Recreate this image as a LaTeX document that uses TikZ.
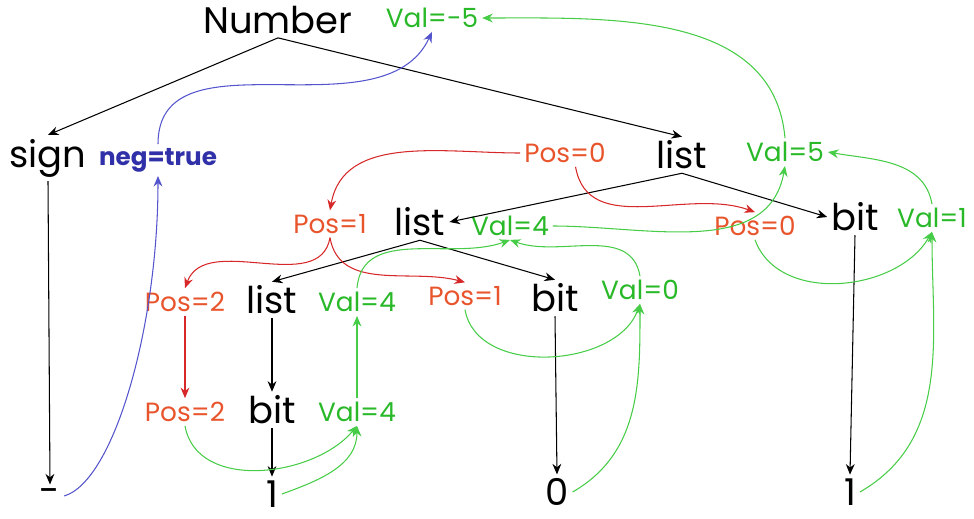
\documentclass[tikz,border=0pt]{standalone}
\usepackage{fontspec}
\setmainfont{Poppins}
\usetikzlibrary{arrows.meta}

\definecolor{posred}{RGB}{232,84,44}
\definecolor{posline}{RGB}{214,40,40}
\definecolor{valgreen}{RGB}{40,184,40}
\definecolor{valline}{RGB}{70,204,70}
\definecolor{negblue}{RGB}{48,48,168}
\definecolor{negline}{RGB}{84,84,204}

\begin{document}
\begin{tikzpicture}[>={Stealth[length=6pt,width=5pt]}, line width=0.6pt,
  sym/.style={font=\fontsize{21}{24}\selectfont, inner sep=2pt},
  posattr/.style={font=\fontsize{15}{17}\selectfont, text=posred, inner sep=2pt},
  valattr/.style={font=\fontsize{15}{17}\selectfont, text=valgreen, inner sep=2pt},
  negattr/.style={font=\fontsize{14}{16}\selectfont\bfseries, text=negblue, inner sep=2pt},
  tree/.style={->, black},
  inh/.style={->, posline},
  syn/.style={->, valline},
  flag/.style={->, negline}
  ]
\useasboundingbox (0,0) rectangle (19.48,-10.36);

% Top: Number and its two children
\node[sym] (num) at (5.56, -0.40) {Number};
\node[valattr] (vneg) at (8.64, -0.36) {Val=-5};

\node[sym] (sign) at (0.96, -3.16) {sign};
\node[negattr] (neg) at (3.16, -3.20) {neg=true};

\node[posattr] (ptop) at (11.30, -3.06) {Pos=0};
\node[sym] (ltop) at (13.64, -3.10) {list};
\node[valattr] (vfive) at (15.70, -3.04) {Val=5};

% Second level
\node[posattr] (pmid) at (6.60, -4.48) {Pos=1};
\node[sym] (lmid) at (8.40, -4.44) {list};
\node[valattr] (vmid) at (10.20, -4.52) {Val=4};

\node[posattr] (pright) at (15.10, -4.52) {Pos=0};
\node[sym] (bitr) at (17.10, -4.34) {bit};
\node[valattr] (vone) at (18.64, -4.36) {Val=1};

% Third level
\node[posattr] (plist) at (3.70, -6.04) {Pos=2};
\node[sym] (llow) at (5.44, -6.00) {list};
\node[valattr] (vlow) at (7.14, -6.04) {Val=4};

\node[posattr] (pbitm) at (9.30, -5.92) {Pos=1};
\node[sym] (bitm) at (11.10, -5.96) {bit};
\node[valattr] (vzero) at (12.80, -5.80) {Val=0};

% Fourth level
\node[posattr] (pbitl) at (3.70, -8.24) {Pos=2};
\node[sym] (bitl) at (5.44, -8.20) {bit};
\node[valattr] (vbit) at (7.14, -8.24) {Val=4};

% Leaves
\node[sym] (minus) at (1.00, -9.92) {-};
\node[sym] (onel) at (5.44, -9.88) {1};
\node[sym] (zero) at (11.14, -9.84) {0};
\node[sym] (oner) at (17.00, -9.84) {1};

% Parse tree
\draw[tree] (num.south) -- (sign.north);
\draw[tree] (num.south) -- (ltop.north);
\draw[tree] (ltop.south) -- (lmid.east);
\draw[tree] (ltop.south) -- (bitr.west);
\draw[tree] (lmid.south) -- (llow.north);
\draw[tree] (lmid.south) -- (bitm.north);
\draw[tree] (sign.south) -- (minus.north);
\draw[tree] (llow.south) -- (bitl.north);
\draw[tree] (bitl.south) -- (onel.north);
\draw[tree] (bitm.south) -- (zero.north);
\draw[tree] (bitr.south) -- (oner.north);

% Inherited positions
\draw[inh] (ptop.west) to[out=180,in=80] (pmid.north);
\draw[inh] ([xshift=6pt]ptop.south) to[out=-80,in=160] (pright.north);
\draw[inh] (pmid.south) to[out=-100,in=70] (plist.north);
\draw[inh] (pmid.south) to[out=-80,in=165] (pbitm.north);
\draw[inh] (plist.south) -- (pbitl.north);

% Synthesized values
\draw[syn] (vfive.north) to[out=95,in=0] (vneg.east);
\draw[syn] (vone.north) to[out=100,in=-10] (vfive.east);
\draw[syn] (vmid.east) to[out=0,in=-100] (vfive.south);
\draw[syn] (vlow.north) to[out=85,in=-160] (vmid.south);
\draw[syn] (vzero.north) to[out=100,in=-20] (vmid.south);
\draw[syn] (pbitm.south) to[out=-80,in=-110] (vzero.south);
\draw[syn] (zero.east) to[out=30,in=-90] (vzero.south);
\draw[syn] (pright.south) to[out=-70,in=-120] (vone.south);
\draw[syn] (oner.east) to[out=30,in=-90] (vone.south);
\draw[syn] (pbitl.south) to[out=-80,in=-130] (vbit.south);
\draw[syn] (onel.east) to[out=20,in=-90] (vbit.south);
\draw[syn] (vbit.north) -- (vlow.south);

% Sign flag
\draw[flag] (neg.north) to[out=90,in=-115] (vneg.south);
\draw[flag] (minus.east) .. controls +(1.0,0.3) and +(0,-3) .. (neg.south);

\end{tikzpicture}
\end{document}
